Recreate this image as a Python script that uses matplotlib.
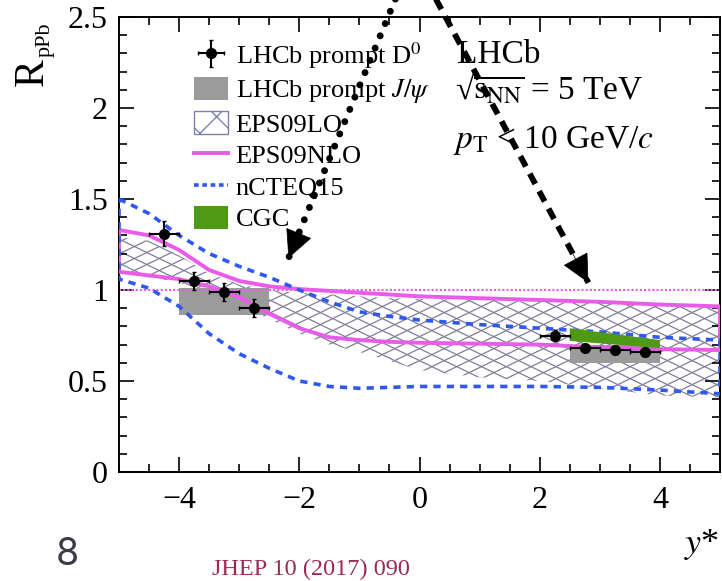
import numpy as np
import matplotlib
matplotlib.use("Agg")
import matplotlib.pyplot as plt
from matplotlib.patches import Patch, PathPatch
from matplotlib.lines import Line2D
from matplotlib.collections import LineCollection
from matplotlib.ticker import MultipleLocator, FuncFormatter

plt.rcParams['font.family'] = ['Liberation Serif', 'DejaVu Serif']
plt.rcParams['mathtext.fontset'] = 'stix'
plt.rcParams['hatch.color'] = '#8080b0'

# ---------------- data ----------------
x_grid = [-5, -4.5, -4, -3.5, -3, -2.5, -2, -1.5, -1, -0.5, 0, 1, 2, 3, 4, 5]

eps09nlo_hi = [1.33, 1.30, 1.22, 1.11, 1.05, 1.02, 1.005, 0.995, 0.985, 0.975, 0.965, 0.955, 0.945, 0.935, 0.92, 0.91]
eps09nlo_lo = [1.10, 1.08, 1.06, 1.02, 0.96, 0.87, 0.79, 0.74, 0.725, 0.715, 0.71, 0.705, 0.70, 0.685, 0.675, 0.67]

ncteq15_hi = [1.50, 1.42, 1.30, 1.20, 1.13, 1.07, 1.00, 0.935, 0.88, 0.855, 0.835, 0.81, 0.79, 0.77, 0.74, 0.725]
ncteq15_lo = [1.06, 1.01, 0.91, 0.76, 0.65, 0.57, 0.50, 0.47, 0.46, 0.465, 0.47, 0.47, 0.47, 0.465, 0.45, 0.43]

eps09lo_hi = [1.29, 1.27, 1.19, 1.09, 1.03, 1.00, 0.985, 0.975, 0.965, 0.955, 0.95, 0.945, 0.935, 0.93, 0.925, 0.915]
eps09lo_lo = [1.10, 1.07, 1.04, 0.99, 0.92, 0.84, 0.76, 0.70, 0.66, 0.61, 0.56, 0.52, 0.50, 0.46, 0.42, 0.41]

d0_y_star = [-4.25, -3.75, -3.25, -2.75, 2.25, 2.75, 3.25, 3.75]
d0_r = [1.31, 1.05, 0.99, 0.90, 0.75, 0.68, 0.67, 0.66]
d0_xerr = [0.25, 0.25, 0.25, 0.25, 0.25, 0.25, 0.25, 0.25]
d0_yerr = [0.07, 0.05, 0.05, 0.05, 0.03, 0.02, 0.02, 0.02]

jpsi_x_lo = [-4.0, 2.5]
jpsi_x_hi = [-2.5, 4.0]
jpsi_r_lo = [0.86, 0.60]
jpsi_r_hi = [1.01, 0.70]

cgc_x = [2.5, 4.0]
cgc_lo = [0.72, 0.68]
cgc_hi = [0.79, 0.725]

legend_labels = [r'LHCb prompt D$^0$', r'LHCb prompt $J/\psi$', 'EPS09LO',
                 'EPS09NLO', 'nCTEQ15', 'CGC']

x_ticks = [-4, -2, 0, 2, 4]

# annotation arrows (data coords): start, tip
dotted_arrow = ((-0.40, 2.60), (-2.18, 1.175))
dashed_arrow = ((0.27, 2.60), (2.81, 1.04))

# ---------------- style ----------------
C_PINK = '#e95ce9'
C_BLUE = '#2f58ef'
C_HATCH = '#7e7e9a'
C_GRAY = '#9b9b9b'
C_GREEN = '#4f9a14'

W, H = 722, 581
fig = plt.figure(figsize=(W / 100, H / 100), dpi=100)
ax = fig.add_axes([119 / W, 1 - 472 / H, (720 - 119) / W, (472 - 17) / H])
ax.set_xlim(-5, 5)
ax.set_ylim(0, 2.5)

xg = np.array(x_grid)

# EPS09LO hatched band (custom diamond hatch clipped to band)
band = ax.fill_between(xg, eps09lo_lo, eps09lo_hi, facecolor='none', edgecolor='none', zorder=1)
clip = PathPatch(band.get_paths()[0], transform=ax.transData, facecolor='none', edgecolor='none')
ax.add_patch(clip)
s = 0.16
offs = np.arange(-1.5, 3.5, 0.066)
xs = np.array([-5.5, 5.5])
segs = [np.column_stack([xs, c + s * xs]) for c in offs] + \
       [np.column_stack([xs, c - s * xs]) for c in offs]
lc = LineCollection(segs, colors=C_HATCH, linewidths=0.9, zorder=1)
ax.add_collection(lc)
lc.set_clip_path(clip)

# J/psi gray boxes
for x0, x1, y0, y1 in zip(jpsi_x_lo, jpsi_x_hi, jpsi_r_lo, jpsi_r_hi):
    ax.fill_between([x0, x1], [y0, y0], [y1, y1], facecolor=C_GRAY, edgecolor='none', zorder=2)

# y = 1 reference
ax.axhline(1.0, color=C_PINK, lw=1.5, ls=(0, (1, 1)), zorder=2)

# EPS09NLO closed outline
ax.plot(np.r_[xg, xg[::-1], xg[0]], np.r_[eps09nlo_hi, eps09nlo_lo[::-1], eps09nlo_hi[0]],
        color=C_PINK, lw=2.8, zorder=3)
# nCTEQ15 closed dashed outline
ax.plot(np.r_[xg, xg[::-1], xg[0]], np.r_[ncteq15_hi, ncteq15_lo[::-1], ncteq15_hi[0]],
        color=C_BLUE, lw=2.6, ls=(0, (2.0, 1.7)), zorder=3)

# CGC
ax.fill_between(cgc_x, cgc_lo, cgc_hi, facecolor=C_GREEN, edgecolor='none', zorder=4)

# D0 points
eb = ax.errorbar(d0_y_star, d0_r, xerr=d0_xerr, yerr=d0_yerr, fmt='o', color='black',
                 ms=7, elinewidth=1.5, capsize=1.5, zorder=5)

# axes styling
for sp in ax.spines.values():
    sp.set_linewidth(1.4)
ax.set_xticks(x_ticks)
ax.xaxis.set_minor_locator(MultipleLocator(0.5))
ax.yaxis.set_major_locator(MultipleLocator(0.5))
ax.yaxis.set_minor_locator(MultipleLocator(0.1))
fmt = FuncFormatter(lambda v, p: f'{v:g}'.replace('-', '\u2212'))
ax.xaxis.set_major_formatter(fmt)
ax.yaxis.set_major_formatter(fmt)
ax.tick_params(which='both', direction='in', top=True, right=True, width=1.2, labelsize=23)
ax.tick_params(which='major', length=11)
ax.tick_params(which='minor', length=6)
ax.tick_params(axis='y', pad=8)
ax.tick_params(axis='x', pad=10)

# legend
handles = [eb,
           Patch(facecolor='#9b9b9b', edgecolor='none'),
           Patch(facecolor='white', edgecolor='#8080b0', hatch='x', lw=1.0),
           Line2D([], [], color=C_PINK, lw=2.8),
           Line2D([], [], color=C_BLUE, lw=2.6, ls=(0, (1.3, 1.0))),
           Patch(facecolor=C_GREEN, edgecolor='none')]
leg = ax.legend(handles, legend_labels, loc='upper left',
                bbox_to_anchor=(194 / W, 1 - 40 / H), bbox_transform=fig.transFigure,
                frameon=False, fontsize=19, borderpad=0, borderaxespad=0,
                handlelength=1.3, handleheight=0.95, handletextpad=0.28, labelspacing=0.23)

# annotation arrows
for (st, tip), ls, lw, cap in [(dotted_arrow, (0, (0.01, 1.9)), 5.0, 'round'),
                               (dashed_arrow, (0, (2.0, 1.4)), 4.2, 'butt')]:
    ax.plot([st[0], tip[0]], [st[1], tip[1]], color='black', lw=lw, ls=ls,
            dash_capstyle=cap, clip_on=False, zorder=7)
    back = (tip[0] + 0.1 * (st[0] - tip[0]), tip[1] + 0.1 * (st[1] - tip[1]))
    ax.annotate('', xy=tip, xytext=back, annotation_clip=False, zorder=8,
                arrowprops=dict(arrowstyle='-|>,head_length=0.85,head_width=0.42',
                                mutation_scale=22, color='black', lw=0.5,
                                shrinkA=0, shrinkB=0))

# experiment text
fig.text(457 / W, 1 - 63 / H, 'LHCb', fontsize=24, ha='left', va='baseline')
fig.text(455 / W, 1 - 100 / H, '\u221a' + r'$\overline{\mathrm{s}_{\mathrm{NN}}}$ = 5 TeV',
         fontsize=24, ha='left', va='baseline')
fig.text(453 / W, 1 - 148 / H, r'$p_{\mathrm{T}}$ < 10 GeV/$c$', fontsize=24, ha='left', va='baseline')

# y label R_pPb
fig.text(43 / W, 1 - 86 / H, 'R', fontsize=30, rotation=90, rotation_mode='anchor',
         ha='left', va='baseline')
fig.text(50 / W, 1 - 57 / H, 'pPb', fontsize=16, rotation=90, rotation_mode='anchor',
         ha='left', va='baseline')

# x label y*
fig.text(719 / W, 1 - 553 / H, r'$y$*', fontsize=26, ha='right', va='baseline')

# slide extras
fig.text(56 / W, 1 - 565 / H, '8', fontsize=27, family='Inter', color='#3b3b48',
         ha='left', va='baseline')
fig.text(212 / W, 1 - 575 / H, 'JHEP 10 (2017) 090', fontsize=17.5, color='#9a2a55',
         ha='left', va='baseline')

fig.savefig('out.png', dpi=100, facecolor='white')
